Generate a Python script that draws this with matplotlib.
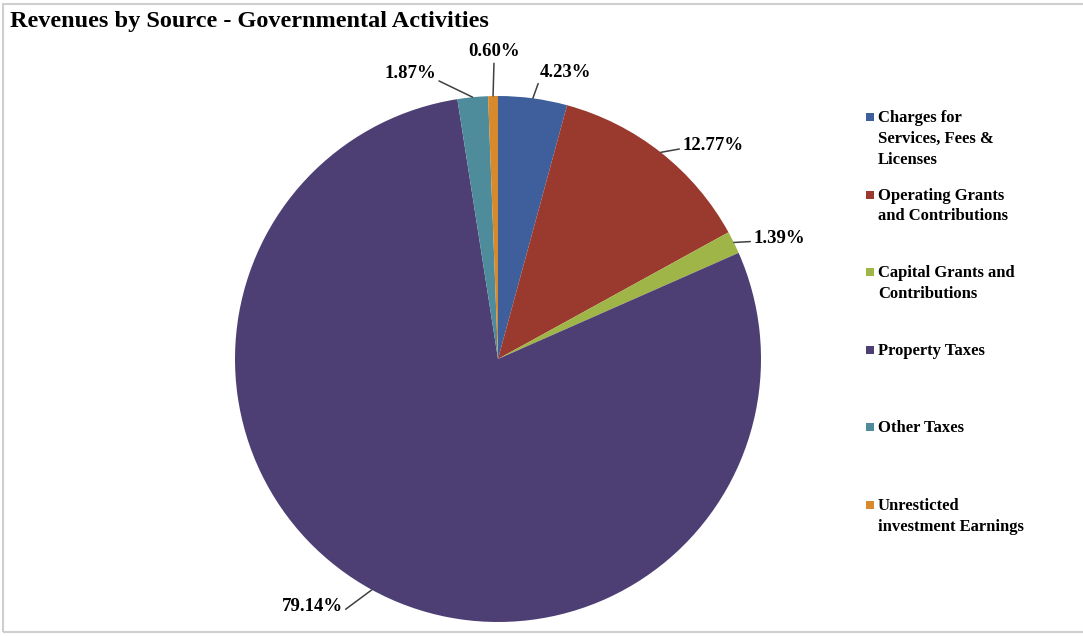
import numpy as np
import matplotlib.pyplot as plt
from matplotlib.patches import Rectangle

plt.rcParams['font.family'] = ['Liberation Serif', 'DejaVu Serif']

categories = ["Charges for\nServices, Fees &\nLicenses",
              "Operating Grants\nand Contributions",
              "Capital Grants and\nContributions",
              "Property Taxes",
              "Other Taxes",
              "Unresticted\ninvestment Earnings"]
shares = [4.23, 12.77, 1.39, 79.14, 1.87, 0.60]
pct_labels = ["4.23%", "12.77%", "1.39%", "79.14%", "1.87%", "0.60%"]
colors = ["#3e5f9b", "#9a3a2e", "#a0b548", "#4d3f74", "#4e8c9c", "#d8892c"]

# where each percentage label sits (pie-radius units) and how it is anchored
label_pos = [(0.16, 1.09), (0.70, 0.81), (0.97, 0.46),
             (-0.59, -0.94), (-0.235, 1.085), (-0.015, 1.135)]
label_ha = ["left", "left", "left", "right", "right", "center"]
label_rel = [(0, 0.15), (0, 0.35), (0, 0.3), (1, 0.2), (1, 0.15), (0.5, 0.0)]

fig = plt.figure(figsize=(10.83, 6.36), dpi=100)
fig.patches.append(Rectangle((3 / 1083, 4 / 636), 1.1, 628 / 636,
                             transform=fig.transFigure, fill=False,
                             edgecolor="#cfcfcf", linewidth=1.5))

fig.text(10 / 1083, 1 - 21 / 636, "Revenues by Source - Governmental Activities",
         fontsize=17.5, fontweight="bold", va="center", ha="left")

r_px = 263
cx, cy = 498, 359
ax = fig.add_axes([(cx - r_px) / 1083, 1 - (cy + r_px) / 636,
                   2 * r_px / 1083, 2 * r_px / 636])
wedges, _ = ax.pie(shares, colors=colors, startangle=90, counterclock=False,
                   radius=1, wedgeprops=dict(linewidth=0))
ax.set_xlim(-1, 1)
ax.set_ylim(-1, 1)
ax.set_aspect("equal")
ax.axis("off")

for w, txt, pos, ha, rel in zip(wedges, pct_labels, label_pos, label_ha, label_rel):
    ang = np.deg2rad((w.theta1 + w.theta2) / 2)
    edge = (np.cos(ang), np.sin(ang))
    ax.annotate(txt, xy=edge, xytext=pos, ha=ha, va="bottom" if ha == "center" else "center",
                fontsize=13.5, fontweight="bold", annotation_clip=False,
                arrowprops=dict(arrowstyle="-", color="#404040", lw=1.1,
                                relpos=rel, shrinkA=0, shrinkB=0))

# legend
for i, (lab, col) in enumerate(zip(categories, colors)):
    y = 1 - (117 + i * 77.6) / 636
    fig.patches.append(Rectangle((866 / 1083, y - 4 / 636), 8 / 1083, 8 / 636,
                                 transform=fig.transFigure, facecolor=col,
                                 edgecolor="none"))
    fig.text(878 / 1083, y + 7 / 636, lab, fontsize=12, fontweight="bold",
             va="top", ha="left", linespacing=1.4)

fig.savefig("out.png", dpi=100)
